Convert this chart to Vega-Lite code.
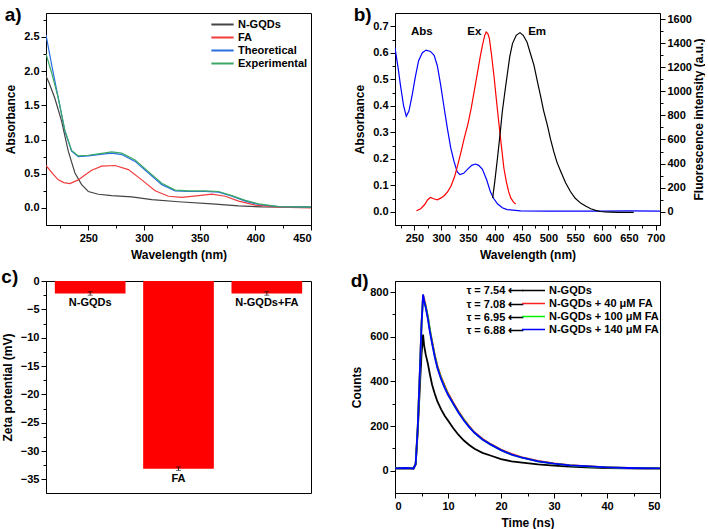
{
  "$schema": "https://vega.github.io/schema/vega-lite/v6.json",
  "background": "white",
  "padding": {"left": 0, "top": 5, "right": 0, "bottom": 2},
  "columns": 2,
  "spacing": {"row": 56, "column": 84},
  "bounds": "flush",
  "resolve": {"scale": {"color": "independent"}, "legend": {"color": "independent"}},
  "config": {
    "font": "Liberation Sans",
    "view": {"stroke": "black", "strokeWidth": 1},
    "axis": {
      "grid": false, "labelOverlap": false,
      "labelFont": "Liberation Sans", "labelFontWeight": "bold", "labelFontSize": 11, "labelColor": "black",
      "titleFont": "Liberation Sans", "titleFontWeight": "bold", "titleFontSize": 12, "titleColor": "black",
      "domainColor": "black", "tickColor": "black", "tickSize": 5, "labelPadding": 2, "titlePadding": 6
    },
    "legend": {"labelFont": "Liberation Sans", "labelFontWeight": "bold", "labelFontSize": 11, "labelColor": "black"},
    "title": {"anchor": "start", "frame": "bounds", "fontSize": 19, "fontWeight": "bold", "font": "Liberation Sans", "color": "black", "offset": 0}
  },
  "concat": [
    {
      "width": 265, "height": 212,
      "title": {"text": "a)", "dy": 16},
      "data": {"values": [
        {"s":"N-GQDs","x":212,"y":1.93},{"s":"N-GQDs","x":215,"y":1.82},{"s":"N-GQDs","x":220,"y":1.6},{"s":"N-GQDs","x":226,"y":1.27},{"s":"N-GQDs","x":232,"y":0.83},{"s":"N-GQDs","x":238,"y":0.51},{"s":"N-GQDs","x":244,"y":0.34},{"s":"N-GQDs","x":250,"y":0.24},{"s":"N-GQDs","x":259,"y":0.2},{"s":"N-GQDs","x":271,"y":0.18},{"s":"N-GQDs","x":289,"y":0.16},{"s":"N-GQDs","x":307,"y":0.12},{"s":"N-GQDs","x":331,"y":0.09},{"s":"N-GQDs","x":361,"y":0.06},{"s":"N-GQDs","x":385,"y":0.03},{"s":"N-GQDs","x":406,"y":0.015},{"s":"N-GQDs","x":430,"y":0.01},{"s":"N-GQDs","x":450,"y":0.01},
        {"s":"FA","x":212,"y":0.62},{"s":"FA","x":218,"y":0.5},{"s":"FA","x":223,"y":0.41},{"s":"FA","x":228,"y":0.37},{"s":"FA","x":233.5,"y":0.355},{"s":"FA","x":241,"y":0.41},{"s":"FA","x":247,"y":0.48},{"s":"FA","x":253,"y":0.55},{"s":"FA","x":262,"y":0.61},{"s":"FA","x":274,"y":0.62},{"s":"FA","x":286,"y":0.56},{"s":"FA","x":298,"y":0.41},{"s":"FA","x":310,"y":0.25},{"s":"FA","x":322,"y":0.17},{"s":"FA","x":334,"y":0.155},{"s":"FA","x":349,"y":0.18},{"s":"FA","x":361,"y":0.2},{"s":"FA","x":373,"y":0.17},{"s":"FA","x":385,"y":0.1},{"s":"FA","x":400,"y":0.04},{"s":"FA","x":421,"y":0.01},{"s":"FA","x":450,"y":0.0},
        {"s":"Theoretical","x":212,"y":2.53},{"s":"Theoretical","x":217,"y":2.1},{"s":"Theoretical","x":223,"y":1.61},{"s":"Theoretical","x":229,"y":1.12},{"s":"Theoretical","x":235,"y":0.83},{"s":"Theoretical","x":241,"y":0.75},{"s":"Theoretical","x":250,"y":0.76},{"s":"Theoretical","x":259,"y":0.78},{"s":"Theoretical","x":271,"y":0.8},{"s":"Theoretical","x":280,"y":0.78},{"s":"Theoretical","x":292,"y":0.68},{"s":"Theoretical","x":304,"y":0.51},{"s":"Theoretical","x":316,"y":0.34},{"s":"Theoretical","x":328,"y":0.25},{"s":"Theoretical","x":340,"y":0.24},{"s":"Theoretical","x":355,"y":0.24},{"s":"Theoretical","x":367,"y":0.23},{"s":"Theoretical","x":379,"y":0.17},{"s":"Theoretical","x":391,"y":0.1},{"s":"Theoretical","x":403,"y":0.05},{"s":"Theoretical","x":421,"y":0.02},{"s":"Theoretical","x":450,"y":0.01},
        {"s":"Experimental","x":212,"y":2.25},{"s":"Experimental","x":217,"y":1.98},{"s":"Experimental","x":223,"y":1.61},{"s":"Experimental","x":229,"y":1.13},{"s":"Experimental","x":235,"y":0.84},{"s":"Experimental","x":241,"y":0.76},{"s":"Experimental","x":250,"y":0.77},{"s":"Experimental","x":259,"y":0.79},{"s":"Experimental","x":271,"y":0.82},{"s":"Experimental","x":280,"y":0.8},{"s":"Experimental","x":292,"y":0.7},{"s":"Experimental","x":304,"y":0.53},{"s":"Experimental","x":316,"y":0.36},{"s":"Experimental","x":328,"y":0.26},{"s":"Experimental","x":340,"y":0.25},{"s":"Experimental","x":355,"y":0.25},{"s":"Experimental","x":367,"y":0.24},{"s":"Experimental","x":379,"y":0.18},{"s":"Experimental","x":391,"y":0.11},{"s":"Experimental","x":403,"y":0.06},{"s":"Experimental","x":421,"y":0.02},{"s":"Experimental","x":450,"y":0.01}
      ]},
      "mark": {"type": "line", "strokeWidth": 1.2, "clip": true},
      "encoding": {
        "x": {"field": "x", "type": "quantitative", "title": "Wavelength (nm)",
          "scale": {"domain": [212, 450], "nice": false, "zero": false},
          "axis": {"tickCount": 100, "format": "d", "values": [225,250,275,300,325,350,375,400,425,450], "labelExpr": "datum.value % 50 === 0 ? datum.label : ''",
            "tickSize": {"condition": {"test": "datum.value % 50 === 0", "value": 5}, "value": 3}}},
        "y": {"field": "y", "type": "quantitative", "title": "Absorbance",
          "scale": {"domain": [-0.25, 2.85], "nice": false, "zero": false},
          "axis": {"tickCount": 100, "values": [0,0.25,0.5,0.75,1,1.25,1.5,1.75,2,2.25,2.5,2.75], "format": ".1f",
            "labelExpr": "round(datum.value*4) % 2 === 0 ? datum.label : ''",
            "tickSize": {"condition": {"test": "round(datum.value*4) % 2 === 0", "value": 5}, "value": 3}}},
        "color": {"field": "s", "type": "nominal",
          "scale": {"domain": ["N-GQDs","FA","Theoretical","Experimental"], "range": ["#444444","#f03c3c","#2a6fe0","#3aa865"]},
          "legend": {"orient": "none", "legendX": 169, "legendY": 4, "title": null, "symbolType": "M-1.76,0H1.76", "symbolSize": 160, "symbolStrokeWidth": 2, "rowPadding": 0, "labelOffset": 8}}
      }
    },
    {
      "width": 265, "height": 212,
      "title": {"text": "b)", "dy": 16},
      "resolve": {"scale": {"y": "independent", "color": "independent"}},
      "layer": [
        {
          "data": {"values": [
            {"x":214,"v":0.62},{"x":215,"v":0.605},{"x":220,"v":0.54},{"x":224,"v":0.48},{"x":230,"v":0.4},{"x":235,"v":0.36},{"x":240,"v":0.38},{"x":246,"v":0.44},{"x":252,"v":0.51},{"x":258,"v":0.57},{"x":265,"v":0.6},{"x":272,"v":0.61},{"x":280,"v":0.605},{"x":287,"v":0.59},{"x":293,"v":0.55},{"x":299,"v":0.48},{"x":305,"v":0.4},{"x":312,"v":0.31},{"x":318,"v":0.24},{"x":324,"v":0.19},{"x":330,"v":0.15},{"x":335,"v":0.14},{"x":342,"v":0.145},{"x":349,"v":0.16},{"x":357,"v":0.175},{"x":364,"v":0.18},{"x":370,"v":0.175},{"x":377,"v":0.16},{"x":385,"v":0.12},{"x":392,"v":0.074},{"x":398,"v":0.05},{"x":405,"v":0.03},{"x":414,"v":0.015},{"x":423,"v":0.008},{"x":448,"v":0.003},{"x":500,"v":0.002},{"x":600,"v":0.002},{"x":650,"v":0.003},{"x":708,"v":0.002}
          ]},
          "mark": {"type": "line", "color": "#0000ff", "strokeWidth": 1.2, "clip": true},
          "encoding": {
            "x": {"field": "x", "type": "quantitative", "title": "Wavelength (nm)",
              "scale": {"domain": [214, 708], "nice": false, "zero": false},
              "axis": {"tickCount": 100, "format": "d", "values": [225,250,275,300,325,350,375,400,425,450,475,500,525,550,575,600,625,650,675,700],
                "labelExpr": "datum.value % 50 === 0 ? datum.label : ''",
                "tickSize": {"condition": {"test": "datum.value % 50 === 0", "value": 5}, "value": 3}}},
            "y": {"field": "v", "type": "quantitative", "title": "Absorbance",
              "scale": {"domain": [-0.05, 0.75], "nice": false, "zero": false},
              "axis": {"tickCount": 100, "values": [0,0.05,0.1,0.15,0.2,0.25,0.3,0.35,0.4,0.45,0.5,0.55,0.6,0.65,0.7], "format": ".1f",
                "labelExpr": "round(datum.value*20) % 2 === 0 ? datum.label : ''",
                "tickSize": {"condition": {"test": "round(datum.value*20) % 2 === 0", "value": 5}, "value": 3}}}
          }
        },
        {
          "data": {"values": [
            {"s":"Ex","x":254,"v":8},{"s":"Ex","x":262,"v":25},{"s":"Ex","x":269,"v":58},{"s":"Ex","x":275,"v":100},{"s":"Ex","x":280,"v":118},{"s":"Ex","x":286,"v":108},{"s":"Ex","x":293,"v":99},{"s":"Ex","x":300,"v":115},{"s":"Ex","x":306,"v":135},{"s":"Ex","x":312,"v":165},{"s":"Ex","x":318,"v":209},{"s":"Ex","x":325,"v":290},{"s":"Ex","x":331,"v":389},{"s":"Ex","x":337,"v":495},{"s":"Ex","x":343,"v":610},{"s":"Ex","x":350,"v":730},{"s":"Ex","x":356,"v":858},{"s":"Ex","x":362,"v":1010},{"s":"Ex","x":368,"v":1162},{"s":"Ex","x":373,"v":1290},{"s":"Ex","x":377,"v":1382},{"s":"Ex","x":381,"v":1460},{"s":"Ex","x":384,"v":1492},{"s":"Ex","x":387,"v":1480},{"s":"Ex","x":390,"v":1437},{"s":"Ex","x":394,"v":1300},{"s":"Ex","x":399,"v":1106},{"s":"Ex","x":403,"v":930},{"s":"Ex","x":408,"v":720},{"s":"Ex","x":413,"v":520},{"s":"Ex","x":417,"v":361},{"s":"Ex","x":422,"v":240},{"s":"Ex","x":426,"v":165},{"s":"Ex","x":430,"v":113},{"s":"Ex","x":435,"v":80},{"s":"Ex","x":439,"v":63},
            {"s":"Em","x":396,"v":113},{"s":"Em","x":400,"v":250},{"s":"Em","x":405,"v":444},{"s":"Em","x":410,"v":650},{"s":"Em","x":414,"v":830},{"s":"Em","x":419,"v":1000},{"s":"Em","x":424,"v":1162},{"s":"Em","x":428,"v":1290},{"s":"Em","x":433,"v":1396},{"s":"Em","x":440,"v":1465},{"s":"Em","x":447,"v":1487},{"s":"Em","x":453,"v":1465},{"s":"Em","x":460,"v":1410},{"s":"Em","x":466,"v":1320},{"s":"Em","x":473,"v":1217},{"s":"Em","x":479,"v":1090},{"s":"Em","x":485,"v":968},{"s":"Em","x":491,"v":840},{"s":"Em","x":498,"v":720},{"s":"Em","x":504,"v":600},{"s":"Em","x":510,"v":499},{"s":"Em","x":516,"v":410},{"s":"Em","x":523,"v":334},{"s":"Em","x":532,"v":240},{"s":"Em","x":541,"v":168},{"s":"Em","x":550,"v":112},{"s":"Em","x":560,"v":72},{"s":"Em","x":570,"v":45},{"s":"Em","x":579,"v":25},{"s":"Em","x":588,"v":12},{"s":"Em","x":597,"v":2},{"s":"Em","x":606,"v":-2},{"s":"Em","x":616,"v":-3},{"s":"Em","x":630,"v":-5},{"s":"Em","x":659,"v":-6}
          ]},
          "mark": {"type": "line", "strokeWidth": 1.2, "clip": true},
          "encoding": {
            "x": {"field": "x", "type": "quantitative"},
            "y": {"field": "v", "type": "quantitative", "title": "Fluorescence intensity (a.u.)",
              "scale": {"domain": [-110, 1650], "nice": false, "zero": false},
              "axis": {"orient": "right", "tickCount": 100, "titleAngle": -90, "titleBaseline": "top", "titlePadding": 2, "format": "d",
                "values": [0,100,200,300,400,500,600,700,800,900,1000,1100,1200,1300,1400,1500,1600],
                "labelExpr": "datum.value % 200 === 0 ? datum.label : ''",
                "tickSize": {"condition": {"test": "datum.value % 200 === 0", "value": 5}, "value": 3}}},
            "color": {"field": "s", "type": "nominal", "scale": {"domain": ["Ex","Em"], "range": ["#ff0000","#000000"]}, "legend": null}
          }
        },
        {
          "data": {"values": [{"t":"Abs","x":264,"v":0.678},{"t":"Ex","x":362,"v":0.678},{"t":"Em","x":479,"v":0.678}]},
          "mark": {"type": "text", "fontWeight": "bold", "fontSize": 11.5, "color": "black", "baseline": "middle"},
          "encoding": {
            "x": {"field": "x", "type": "quantitative"},
            "y": {"field": "v", "type": "quantitative", "scale": {"domain": [-0.05, 0.75], "nice": false, "zero": false}, "axis": null},
            "text": {"field": "t"}
          }
        }
      ]
    },
    {
      "width": 265, "height": 212,
      "title": {"text": "c)", "dy": 16},
      "data": {"values": [
        {"cat":"N-GQDs","v":-2.2,"lo":-2.5,"hi":-1.9},
        {"cat":"FA","v":-33.1,"lo":-33.4,"hi":-32.8},
        {"cat":"N-GQDs+FA","v":-2.2,"lo":-2.5,"hi":-1.9}
      ]},
      "encoding": {
        "x": {"field": "cat", "type": "nominal", "sort": null, "axis": null,
          "scale": {"paddingInner": 0.2, "paddingOuter": 0.1}}
      },
      "layer": [
        {
          "mark": {"type": "bar", "color": "#ff0000"},
          "encoding": {
            "y": {"field": "v", "type": "quantitative", "title": "Zeta potential (mV)",
              "scale": {"domain": [-37.4, 0], "nice": false},
              "axis": {"tickCount": 100, "format": "d", "values": [-35,-32.5,-30,-27.5,-25,-22.5,-20,-17.5,-15,-12.5,-10,-7.5,-5,-2.5,0],
                "labelExpr": "round(datum.value*2) % 10 === 0 ? datum.label : ''",
                "tickSize": {"condition": {"test": "round(datum.value*2) % 10 === 0", "value": 5}, "value": 3}}}
          }
        },
        {
          "mark": {"type": "rule", "color": "black", "strokeWidth": 0.8},
          "encoding": {"y": {"field": "lo", "type": "quantitative"}, "y2": {"field": "hi"}}
        },
        {
          "mark": {"type": "tick", "color": "black", "size": 5, "thickness": 0.8},
          "encoding": {"y": {"field": "lo", "type": "quantitative"}}
        },
        {
          "mark": {"type": "tick", "color": "black", "size": 5, "thickness": 0.8},
          "encoding": {"y": {"field": "hi", "type": "quantitative"}}
        },
        {
          "mark": {"type": "text", "fontWeight": "bold", "fontSize": 11, "color": "black", "baseline": "middle", "dy": 10},
          "encoding": {"y": {"field": "v", "type": "quantitative"}, "text": {"field": "cat"}}
        }
      ]
    },
    {
      "width": 265, "height": 212,
      "title": {"text": "d)", "dy": 14},
      "resolve": {"scale": {"color": "independent"}},
      "layer": [
        {
          "data": {"values": [
            {"s":"N-GQDs","t":0,"c":10},{"s":"N-GQDs","t":2,"c":12},{"s":"N-GQDs","t":3.5,"c":10},{"s":"N-GQDs","t":3.9,"c":28},{"s":"N-GQDs","t":4.3,"c":180},{"s":"N-GQDs","t":4.7,"c":380},{"s":"N-GQDs","t":5.0,"c":520},{"s":"N-GQDs","t":5.3,"c":610},{"s":"N-GQDs","t":5.5,"c":560},{"s":"N-GQDs","t":5.8,"c":520},{"s":"N-GQDs","t":6.2,"c":480},{"s":"N-GQDs","t":6.6,"c":430},{"s":"N-GQDs","t":7,"c":385},{"s":"N-GQDs","t":7.5,"c":345},{"s":"N-GQDs","t":8,"c":310},{"s":"N-GQDs","t":8.7,"c":275},{"s":"N-GQDs","t":9.4,"c":245},{"s":"N-GQDs","t":10,"c":225},{"s":"N-GQDs","t":11,"c":190},{"s":"N-GQDs","t":12,"c":160},{"s":"N-GQDs","t":13,"c":135},{"s":"N-GQDs","t":14,"c":115},{"s":"N-GQDs","t":15,"c":98},{"s":"N-GQDs","t":16.5,"c":80},{"s":"N-GQDs","t":18,"c":68},{"s":"N-GQDs","t":20,"c":52},{"s":"N-GQDs","t":22,"c":42},{"s":"N-GQDs","t":24,"c":36},{"s":"N-GQDs","t":27,"c":28},{"s":"N-GQDs","t":30,"c":23},{"s":"N-GQDs","t":33,"c":18},{"s":"N-GQDs","t":36,"c":15},{"s":"N-GQDs","t":40,"c":12},{"s":"N-GQDs","t":44,"c":11},{"s":"N-GQDs","t":47,"c":10},{"s":"N-GQDs","t":50,"c":10},
            {"s":"N-GQDs + 40 μM FA","t":0,"c":10},{"s":"N-GQDs + 40 μM FA","t":2,"c":11},{"s":"N-GQDs + 40 μM FA","t":3.5,"c":10},{"s":"N-GQDs + 40 μM FA","t":3.9,"c":30},{"s":"N-GQDs + 40 μM FA","t":4.3,"c":200},{"s":"N-GQDs + 40 μM FA","t":4.7,"c":450},{"s":"N-GQDs + 40 μM FA","t":5.0,"c":660},{"s":"N-GQDs + 40 μM FA","t":5.3,"c":785},{"s":"N-GQDs + 40 μM FA","t":5.5,"c":770},{"s":"N-GQDs + 40 μM FA","t":5.8,"c":740},{"s":"N-GQDs + 40 μM FA","t":6.2,"c":690},{"s":"N-GQDs + 40 μM FA","t":6.6,"c":630},{"s":"N-GQDs + 40 μM FA","t":7,"c":580},{"s":"N-GQDs + 40 μM FA","t":7.5,"c":520},{"s":"N-GQDs + 40 μM FA","t":8,"c":470},{"s":"N-GQDs + 40 μM FA","t":8.7,"c":420},{"s":"N-GQDs + 40 μM FA","t":9.4,"c":380},{"s":"N-GQDs + 40 μM FA","t":10,"c":348},{"s":"N-GQDs + 40 μM FA","t":11,"c":305},{"s":"N-GQDs + 40 μM FA","t":12,"c":265},{"s":"N-GQDs + 40 μM FA","t":13,"c":230},{"s":"N-GQDs + 40 μM FA","t":14,"c":200},{"s":"N-GQDs + 40 μM FA","t":15,"c":172},{"s":"N-GQDs + 40 μM FA","t":16.5,"c":143},{"s":"N-GQDs + 40 μM FA","t":18,"c":120},{"s":"N-GQDs + 40 μM FA","t":20,"c":95},{"s":"N-GQDs + 40 μM FA","t":22,"c":75},{"s":"N-GQDs + 40 μM FA","t":24,"c":60},{"s":"N-GQDs + 40 μM FA","t":27,"c":44},{"s":"N-GQDs + 40 μM FA","t":30,"c":33},{"s":"N-GQDs + 40 μM FA","t":33,"c":25},{"s":"N-GQDs + 40 μM FA","t":36,"c":20},{"s":"N-GQDs + 40 μM FA","t":40,"c":15},{"s":"N-GQDs + 40 μM FA","t":44,"c":12},{"s":"N-GQDs + 40 μM FA","t":47,"c":11},{"s":"N-GQDs + 40 μM FA","t":50,"c":10},
            {"s":"N-GQDs + 100 μM FA","t":0,"c":10},{"s":"N-GQDs + 100 μM FA","t":2,"c":11},{"s":"N-GQDs + 100 μM FA","t":3.5,"c":10},{"s":"N-GQDs + 100 μM FA","t":3.9,"c":30},{"s":"N-GQDs + 100 μM FA","t":4.3,"c":200},{"s":"N-GQDs + 100 μM FA","t":4.7,"c":450},{"s":"N-GQDs + 100 μM FA","t":5.0,"c":650},{"s":"N-GQDs + 100 μM FA","t":5.3,"c":780},{"s":"N-GQDs + 100 μM FA","t":5.5,"c":760},{"s":"N-GQDs + 100 μM FA","t":5.8,"c":735},{"s":"N-GQDs + 100 μM FA","t":6.2,"c":690},{"s":"N-GQDs + 100 μM FA","t":6.6,"c":630},{"s":"N-GQDs + 100 μM FA","t":7,"c":575},{"s":"N-GQDs + 100 μM FA","t":7.5,"c":515},{"s":"N-GQDs + 100 μM FA","t":8,"c":465},{"s":"N-GQDs + 100 μM FA","t":8.7,"c":415},{"s":"N-GQDs + 100 μM FA","t":9.4,"c":375},{"s":"N-GQDs + 100 μM FA","t":10,"c":343},{"s":"N-GQDs + 100 μM FA","t":11,"c":300},{"s":"N-GQDs + 100 μM FA","t":12,"c":262},{"s":"N-GQDs + 100 μM FA","t":13,"c":228},{"s":"N-GQDs + 100 μM FA","t":14,"c":197},{"s":"N-GQDs + 100 μM FA","t":15,"c":170},{"s":"N-GQDs + 100 μM FA","t":16.5,"c":140},{"s":"N-GQDs + 100 μM FA","t":18,"c":118},{"s":"N-GQDs + 100 μM FA","t":20,"c":92},{"s":"N-GQDs + 100 μM FA","t":22,"c":72},{"s":"N-GQDs + 100 μM FA","t":24,"c":58},{"s":"N-GQDs + 100 μM FA","t":27,"c":42},{"s":"N-GQDs + 100 μM FA","t":30,"c":32},{"s":"N-GQDs + 100 μM FA","t":33,"c":24},{"s":"N-GQDs + 100 μM FA","t":36,"c":19},{"s":"N-GQDs + 100 μM FA","t":40,"c":15},{"s":"N-GQDs + 100 μM FA","t":44,"c":12},{"s":"N-GQDs + 100 μM FA","t":47,"c":11},{"s":"N-GQDs + 100 μM FA","t":50,"c":10},
            {"s":"N-GQDs + 140 μM FA","t":0,"c":10},{"s":"N-GQDs + 140 μM FA","t":2,"c":12},{"s":"N-GQDs + 140 μM FA","t":3.5,"c":10},{"s":"N-GQDs + 140 μM FA","t":3.9,"c":30},{"s":"N-GQDs + 140 μM FA","t":4.3,"c":200},{"s":"N-GQDs + 140 μM FA","t":4.7,"c":450},{"s":"N-GQDs + 140 μM FA","t":5.0,"c":650},{"s":"N-GQDs + 140 μM FA","t":5.3,"c":790},{"s":"N-GQDs + 140 μM FA","t":5.5,"c":760},{"s":"N-GQDs + 140 μM FA","t":5.8,"c":730},{"s":"N-GQDs + 140 μM FA","t":6.2,"c":680},{"s":"N-GQDs + 140 μM FA","t":6.6,"c":620},{"s":"N-GQDs + 140 μM FA","t":7,"c":570},{"s":"N-GQDs + 140 μM FA","t":7.5,"c":510},{"s":"N-GQDs + 140 μM FA","t":8,"c":460},{"s":"N-GQDs + 140 μM FA","t":8.7,"c":410},{"s":"N-GQDs + 140 μM FA","t":9.4,"c":370},{"s":"N-GQDs + 140 μM FA","t":10,"c":340},{"s":"N-GQDs + 140 μM FA","t":11,"c":300},{"s":"N-GQDs + 140 μM FA","t":12,"c":260},{"s":"N-GQDs + 140 μM FA","t":13,"c":225},{"s":"N-GQDs + 140 μM FA","t":14,"c":195},{"s":"N-GQDs + 140 μM FA","t":15,"c":170},{"s":"N-GQDs + 140 μM FA","t":16.5,"c":140},{"s":"N-GQDs + 140 μM FA","t":18,"c":118},{"s":"N-GQDs + 140 μM FA","t":20,"c":92},{"s":"N-GQDs + 140 μM FA","t":22,"c":72},{"s":"N-GQDs + 140 μM FA","t":24,"c":58},{"s":"N-GQDs + 140 μM FA","t":27,"c":42},{"s":"N-GQDs + 140 μM FA","t":30,"c":32},{"s":"N-GQDs + 140 μM FA","t":33,"c":24},{"s":"N-GQDs + 140 μM FA","t":36,"c":20},{"s":"N-GQDs + 140 μM FA","t":40,"c":15},{"s":"N-GQDs + 140 μM FA","t":44,"c":12},{"s":"N-GQDs + 140 μM FA","t":47,"c":11},{"s":"N-GQDs + 140 μM FA","t":50,"c":10}
          ]},
          "mark": {"type": "line", "strokeWidth": 1.8, "clip": true},
          "encoding": {
            "x": {"field": "t", "type": "quantitative", "title": "Time (ns)",
              "scale": {"domain": [0, 50], "nice": false},
              "axis": {"tickCount": 100, "format": "d", "values": [0,5,10,15,20,25,30,35,40,45,50], "labelExpr": "datum.value % 10 === 0 ? datum.label : ''",
                "tickSize": {"condition": {"test": "datum.value % 10 === 0", "value": 5}, "value": 3}}},
            "y": {"field": "c", "type": "quantitative", "title": "Counts",
              "scale": {"domain": [-100, 850], "nice": false, "zero": false},
              "axis": {"tickCount": 100, "format": "d", "values": [0,100,200,300,400,500,600,700,800], "labelExpr": "datum.value % 200 === 0 ? datum.label : ''",
                "tickSize": {"condition": {"test": "datum.value % 200 === 0", "value": 5}, "value": 3}}},
            "color": {"field": "s", "type": "nominal",
              "scale": {"domain": ["N-GQDs","N-GQDs + 40 μM FA","N-GQDs + 100 μM FA","N-GQDs + 140 μM FA"], "range": ["#000000","#ff2020","#00ee00","#0000ff"]},
              "legend": {"orient": "none", "legendX": 131, "legendY": 2, "title": null, "symbolType": "M-1.76,0H1.76", "symbolSize": 170, "symbolStrokeWidth": 1.5, "rowPadding": 0, "labelOffset": 8}}
          }
        },
        {
          "data": {"values": [
            {"l":"τ = 7.54 ⟵","t":24.4,"c":803},{"l":"τ = 7.08 ⟵","t":24.4,"c":743},{"l":"τ = 6.95 ⟵","t":24.4,"c":685},{"l":"τ = 6.88 ⟵","t":24.4,"c":626}
          ]},
          "mark": {"type": "text", "align": "right", "baseline": "middle", "fontWeight": "bold", "fontSize": 11, "color": "black"},
          "encoding": {
            "x": {"field": "t", "type": "quantitative"},
            "y": {"field": "c", "type": "quantitative"},
            "text": {"field": "l"}
          }
        }
      ]
    }
  ]
}
